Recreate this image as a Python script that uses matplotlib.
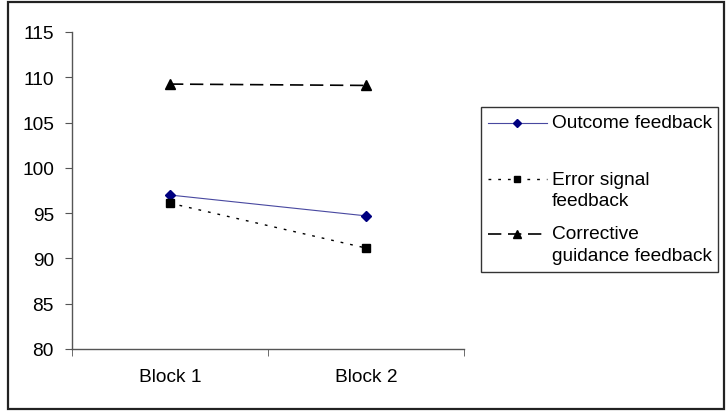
import matplotlib
matplotlib.use("Agg")
import matplotlib.pyplot as plt
from matplotlib.lines import Line2D
from matplotlib.patches import Rectangle

W, H = 727, 414

blocks = ["Block 1", "Block 2"]
outcome = [97.0, 94.7]
error_signal = [96.1, 91.15]
corrective = [109.25, 109.1]
y_ticks = [80, 85, 90, 95, 100, 105, 110, 115]

legend_labels = ["Outcome feedback", "Error signal\nfeedback", "Corrective\nguidance feedback"]

plt.rcParams["font.family"] = ["Liberation Sans", "DejaVu Sans"]
plt.rcParams["font.size"] = 13.8


def px(x, y):
    # pixel position -> figure fraction
    return x / W, 1 - y / H


fig = plt.figure(figsize=(W / 100, H / 100), dpi=100)
ax = fig.add_axes([72 / W, 1 - 350 / H, (464 - 72) / W, (350 - 33) / H])

x = list(range(len(blocks)))
styles = [
    dict(color="#4848a0", lw=0.8, ls="-", marker="D", ms=5.2, mfc="#000080", mec="#000080"),
    dict(color="black", lw=1.0, ls=(0, (2, 5)), marker="s", ms=5.2, mfc="black", mec="black"),
    dict(color="black", lw=1.2, ls=(0, (8, 4)), marker="^", ms=6.5, mfc="black", mec="black"),
]
series = [outcome, error_signal, corrective]
for vals, st in zip(series, styles):
    ax.plot(x, vals, clip_on=False, **st)

ax.set_xlim(-0.5, len(blocks) - 0.5)
ax.set_ylim(80, 115)
ax.set_yticks(y_ticks)
ax.set_xticks(x)
ax.set_xticklabels(blocks)
ax.set_xticks([i - 0.5 for i in range(len(blocks) + 1)], minor=True)
ax.tick_params(axis="x", which="major", length=0, pad=14)
ax.tick_params(axis="x", which="minor", length=5, direction="out", color="#555555")
ax.tick_params(axis="y", length=5, direction="out", color="#555555", pad=8)
for side in ["top", "right"]:
    ax.spines[side].set_visible(False)
for side in ["left", "bottom"]:
    ax.spines[side].set_color("#555555")
    ax.spines[side].set_linewidth(1.0)

# legend drawn by hand so the handles line up with the first text line
x0, y0 = px(481, 273)
x1, y1 = px(718, 108)
fig.add_artist(Rectangle((x0, y0), x1 - x0, y1 - y0, transform=fig.transFigure,
                         fill=False, edgecolor="#333333", lw=1.0))
handle_y = [124, 180, 235]
text_y = [124, 191, 245.5]
for hy, ty, lab, st in zip(handle_y, text_y, legend_labels, styles):
    hx0, hyf = px(488, hy)
    hx1, _ = px(547, hy)
    line_st = {k: v for k, v in st.items() if k != "marker"}
    fig.add_artist(Line2D([hx0, hx1], [hyf, hyf], transform=fig.transFigure, **line_st))
    mx, _ = px(517, hy)
    fig.add_artist(Line2D([mx], [hyf], transform=fig.transFigure, ls="none",
                          marker=st["marker"], ms=st["ms"] * 0.85, mfc=st["mfc"], mec=st["mec"]))
    tx, tyf = px(552, ty)
    fig.text(tx, tyf, lab, ha="left", va="center", linespacing=1.35)

# outer border
bx0, by0 = px(8, 410)
bx1, by1 = px(724, 3)
fig.add_artist(Rectangle((bx0, by0), bx1 - bx0, by1 - by0, transform=fig.transFigure,
                         fill=False, edgecolor="#222222", lw=1.6))

fig.savefig("out.png", dpi=100)
